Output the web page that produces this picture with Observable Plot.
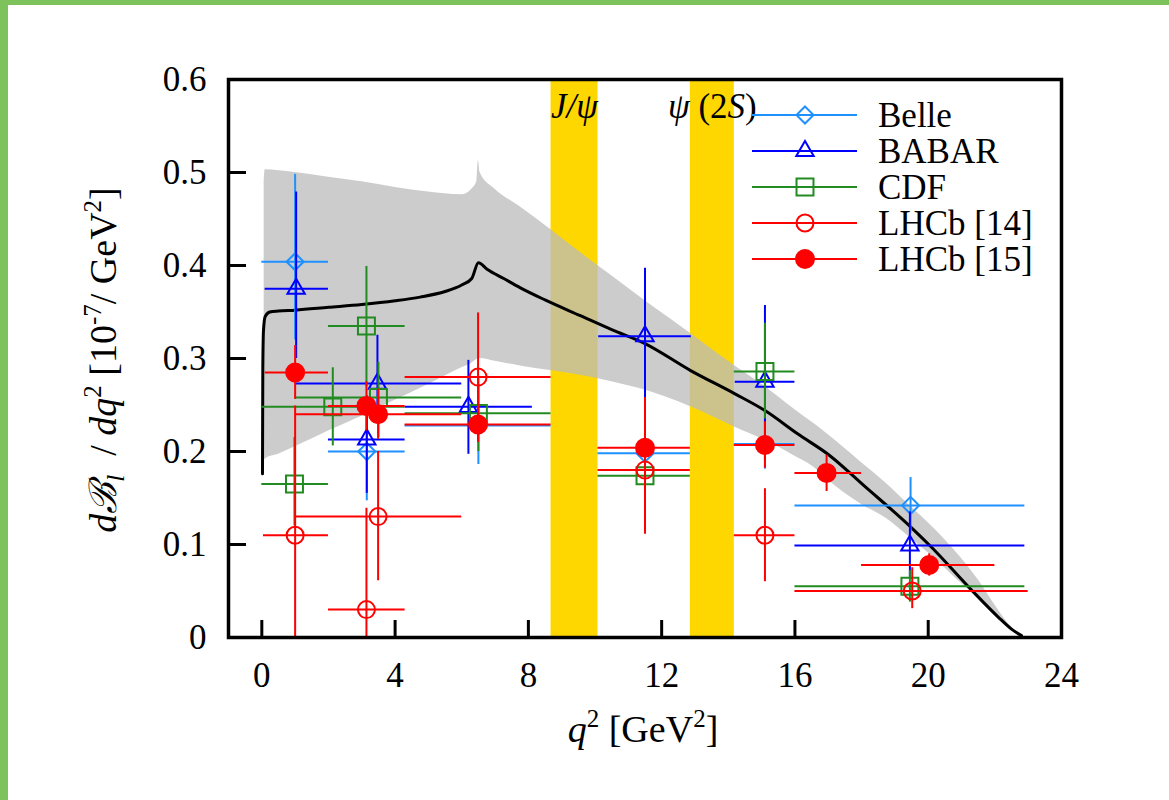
<!DOCTYPE html>
<html><head><meta charset="utf-8">
<script src="https://cdn.jsdelivr.net/npm/d3@7"></script>
<script src="https://cdn.jsdelivr.net/npm/@observablehq/plot@0.6"></script>
<style>
html,body{margin:0;padding:0;background:#fff;}
#wrap{position:relative;width:1169px;height:800px;overflow:hidden;background:#fff;}
#bt{position:absolute;left:0;top:0;width:1169px;height:5px;background:#7dc25a;}
#bl{position:absolute;left:0;top:0;width:8px;height:800px;background:#7dc25a;}
#chart{position:absolute;left:0;top:0;}
#chart svg text, #chart svg tspan{font-family:"Liberation Serif","Times New Roman",serif !important;}
</style></head><body><div id="wrap"><div id="chart"></div><div id="bt"></div><div id="bl"></div></div>
<script>
// ---------- data ----------
const xTicks = [0, 4, 8, 12, 16, 20, 24];
const yTicks = [0, 0.1, 0.2, 0.3, 0.4, 0.5, 0.6];

const resLabels = ["J/ψ", "ψ (2S)"];
const resLo = [8.68, 12.86];
const resHi = [10.09, 14.18];

// theory curve
const curveQ2 = [0.02, 0.03, 0.05, 0.1, 0.24, 0.5, 1, 2, 3, 4, 4.75, 5.5, 6, 6.3, 6.5, 6.76, 7.26, 7.76, 8.5, 9.56, 10.5, 11.5, 12.87, 14.2, 15.1, 16.08, 17.03, 18.08, 19.47, 20.1, 21.3, 22.1, 22.5, 22.8];
const curveVal = [0.176, 0.29, 0.33, 0.345, 0.35, 0.351, 0.352, 0.355, 0.358, 0.362, 0.366, 0.372, 0.379, 0.386, 0.403, 0.396, 0.386, 0.376, 0.363, 0.346, 0.331, 0.316, 0.287, 0.262, 0.244, 0.219, 0.196, 0.163, 0.119, 0.097, 0.051, 0.022, 0.009, 0.002];

// theory uncertainty band
const bandQ2 = [0.07, 0.1, 0.5, 1, 2, 3, 4, 5, 6, 6.3, 6.45, 6.5, 6.55, 7, 7.76, 8.66, 9.56, 10.5, 11.5, 12.87, 14.2, 15.1, 16, 16.57, 17, 18, 18.7, 19.5, 20.1, 21, 21.5, 22, 22.4, 22.8];
const bandLo = [0.19, 0.192, 0.197, 0.205, 0.222, 0.238, 0.255, 0.272, 0.29, 0.295, 0.299, 0.30, 0.30, 0.297, 0.292, 0.287, 0.282, 0.275, 0.266, 0.248, 0.226, 0.212, 0.195, 0.183, 0.169, 0.143, 0.129, 0.106, 0.088, 0.058, 0.042, 0.025, 0.012, 0.0];
const bandHi = [0.49, 0.503, 0.502, 0.5, 0.495, 0.49, 0.484, 0.479, 0.476, 0.482, 0.49, 0.513, 0.5, 0.482, 0.463, 0.439, 0.414, 0.389, 0.362, 0.327, 0.292, 0.27, 0.245, 0.23, 0.218, 0.188, 0.167, 0.14, 0.12, 0.085, 0.062, 0.035, 0.015, 0.0];

// Belle
const belleBins = [[0, 2], [2, 4.3], [4.3, 8.68], [10.09, 12.86], [14.18, 16], [16, 22.9]];
const belleX = [1.0, 3.15, 6.5, 11.5, 15.1, 19.47];
const belleVal = [0.404, 0.200, 0.228, 0.198, 0.208, 0.142];
const belleLow = [0.32, 0.147, 0.186, 0.15, 0.181, 0.112];
const belleHigh = [0.498, 0.25, 0.27, 0.245, 0.235, 0.172];

// BABAR
const babarBins = [[0.1, 2], [2, 4.3], [1, 6], [4.3, 8.12], [10.11, 12.89], [14.21, 16], [16, 22.9]];
const babarX = [1.03, 3.15, 3.47, 6.2, 11.5, 15.1, 19.45];
const babarVal = [0.375, 0.213, 0.273, 0.248, 0.324, 0.275, 0.099];
const babarLow = [0.30, 0.155, 0.23, 0.197, 0.255, 0.19, 0.065];
const babarHigh = [0.479, 0.26, 0.325, 0.298, 0.397, 0.357, 0.135];

// CDF
const cdfBins = [[0, 2], [2, 4.3], [0, 4.3], [1, 6], [4.3, 8.68], [10.09, 12.86], [14.18, 16], [16, 22.9]];
const cdfX = [0.98, 3.14, 2.13, 3.5, 6.5, 11.5, 15.1, 19.45];
const cdfVal = [0.165, 0.335, 0.248, 0.258, 0.241, 0.174, 0.286, 0.055];
const cdfLow = [0.12, 0.27, 0.206, 0.215, 0.20, 0.135, 0.235, 0.038];
const cdfHigh = [0.215, 0.399, 0.29, 0.296, 0.28, 0.215, 0.338, 0.072];

// LHCb [14]
const lhcb14Bins = [[0.05, 2], [2, 4.3], [1, 6], [4.3, 8.68], [10.09, 12.86], [14.18, 16], [16, 23]];
const lhcb14X = [1.0, 3.14, 3.49, 6.49, 11.5, 15.1, 19.52];
const lhcb14Val = [0.110, 0.030, 0.130, 0.280, 0.180, 0.110, 0.050];
const lhcb14Low = [-0.03, -0.08, 0.061, 0.21, 0.111, 0.060, 0.031];
const lhcb14High = [0.249, 0.139, 0.2, 0.349, 0.258, 0.16, 0.075];

// LHCb [15]
const lhcb15Bins = [[0.1, 2], [2, 4.3], [1, 6], [4.3, 8.68], [10.09, 12.86], [14.18, 16], [16, 18], [18, 22]];
const lhcb15X = [1.0, 3.14, 3.49, 6.49, 11.5, 15.1, 16.95, 20.03];
const lhcb15Val = [0.285, 0.249, 0.240, 0.229, 0.204, 0.207, 0.177, 0.078];
const lhcb15Low = [0.256, 0.222, 0.213, 0.21, 0.18, 0.182, 0.157, 0.066];
const lhcb15High = [0.314, 0.275, 0.267, 0.25, 0.23, 0.232, 0.196, 0.09];

// ---------- build ----------
const FONT = "Liberation Serif, Times New Roman, serif";
function rows(bins, xs, vals, lows, highs) {
  return xs.map((x, i) => ({x, x1: bins[i][0], x2: bins[i][1], y: vals[i], y1: lows[i], y2: highs[i]}));
}
const series = [
  {name: "Belle", color: "#1e90ff", symbol: "diamond2", r: 7.7, filled: false, data: rows(belleBins, belleX, belleVal, belleLow, belleHigh)},
  {name: "BABAR", color: "#0000ff", symbol: "triangle2", r: 8.3, filled: false, data: rows(babarBins, babarX, babarVal, babarLow, babarHigh)},
  {name: "CDF", color: "#228b22", symbol: "square2", r: 10.8, filled: false, data: rows(cdfBins, cdfX, cdfVal, cdfLow, cdfHigh)},
  {name: "LHCb [14]", color: "#ff0000", symbol: "circle", r: 8.5, filled: false, data: rows(lhcb14Bins, lhcb14X, lhcb14Val, lhcb14Low, lhcb14High)},
  {name: "LHCb [15]", color: "#ff0000", symbol: "circle", r: 9, filled: true, data: rows(lhcb15Bins, lhcb15X, lhcb15Val, lhcb15Low, lhcb15High)}
];
const resonances = resLabels.map((t, i) => ({label: t, lo: resLo[i], hi: resHi[i]}));
const curve = curveQ2.map((q, i) => ({q, v: curveVal[i]}));
const band = bandQ2.map((q, i) => ({q, lo: bandLo[i], hi: bandHi[i]}));

const dataMarks = series.flatMap(s => [
  Plot.ruleY(s.data, {x1: "x1", x2: "x2", y: "y", stroke: s.color, strokeWidth: 2}),
  Plot.ruleX(s.data, {x: "x", y1: "y1", y2: "y2", stroke: s.color, strokeWidth: 2, clip: true}),
  Plot.dot(s.data, {x: "x", y: "y", symbol: s.symbol, r: s.r, stroke: s.color, strokeWidth: 2, fill: s.filled ? s.color : "none"})
]);

const plot = Plot.plot({
  width: 1169, height: 800,
  marginLeft: 228, marginRight: 108, marginTop: 79, marginBottom: 163,
  style: {fontFamily: FONT, background: "transparent", overflow: "visible"},
  x: {domain: [-1, 24], ticks: xTicks},
  y: {domain: [0, 0.6], ticks: yTicks},
  marks: [
    Plot.rect(resonances, {x1: "lo", x2: "hi", fill: "#ffd700"}),
    Plot.areaY(band, {x: "q", y1: "lo", y2: "hi", fill: "#bbbbbb", fillOpacity: 0.75, curve: "monotone-x"}),
    Plot.line(curve, {x: "q", y: "v", stroke: "black", strokeWidth: 3, curve: "monotone-x"}),
    Plot.text(resonances, {x: d => (d.lo + d.hi) / 2, text: "label", frameAnchor: "top", dy: 38, lineAnchor: "bottom", fontSize: 35, fill: "black"}),
    ...dataMarks,
    Plot.frame({stroke: "black", strokeWidth: 3.5}),
    Plot.axisX({ticks: xTicks, tickSize: -17, tickPadding: 42, strokeWidth: 3, fontSize: 35, label: null, tickFormat: d => String(d)}),
    Plot.axisY({ticks: yTicks, tickSize: -18, tickPadding: 40, strokeWidth: 3, fontSize: 35, label: null, tickFormat: d => d === 0 ? "0" : d.toFixed(1)})
  ]
});
document.getElementById("chart").appendChild(plot);

// ---------- mixed italic styling for resonance labels ----------
const svg = d3.select(plot);
const italicChars = new Set(["J", "ψ", "S", "/"]);
svg.selectAll("text").each(function() {
  const t = this.textContent;
  if (!resLabels.includes(t)) return;
  const el = d3.select(this);
  el.text(null);
  for (const ch of t) {
    el.append("tspan").attr("font-style", italicChars.has(ch) ? "italic" : "normal").text(ch);
  }
});

// ---------- legend & axis titles ----------
const leg = svg.append("g").attr("font-size", 35).attr("text-anchor", "start");
const symMap = {diamond2: d3.symbolDiamond2, triangle2: d3.symbolTriangle2, square2: d3.symbolSquare2, circle: d3.symbolCircle};
series.forEach((s, i) => {
  const cy = 115 + i * 36;
  const g = leg.append("g").attr("transform", `translate(0,${cy})`);
  g.append("line").attr("x1", 752).attr("x2", 857).attr("y1", 0).attr("y2", 0).attr("stroke", s.color).attr("stroke-width", 2);
  g.append("path").attr("transform", "translate(805,0)")
    .attr("d", d3.symbol(symMap[s.symbol], s.r * s.r * Math.PI)())
    .attr("fill", s.filled ? s.color : "none").attr("stroke", s.color).attr("stroke-width", 2);
  g.append("text").attr("x", 878).attr("y", 12).attr("text-anchor", "start").text(s.name);
});

const xl = svg.append("text").attr("x", 643).attr("y", 742).attr("text-anchor", "middle")
  .attr("font-size", 38).style("white-space", "pre");
xl.append("tspan").attr("font-style", "italic").text("q");
xl.append("tspan").attr("font-size", 25).attr("dy", -15).text("2");
xl.append("tspan").attr("dy", 15).text(" [GeV");
xl.append("tspan").attr("font-size", 25).attr("dy", -15).text("2");
xl.append("tspan").attr("dy", 15).text("]");

const yl = svg.append("text").attr("transform", "translate(116,360) rotate(-90)").attr("text-anchor", "middle")
  .attr("font-size", 38).style("white-space", "pre");
yl.append("tspan").attr("font-style", "italic").text("dℬ");
yl.append("tspan").attr("font-style", "italic").attr("font-size", 25).attr("dy", 8).text("l");
yl.append("tspan").attr("dy", -8).text("  / ");
yl.append("tspan").attr("font-style", "italic").text("dq");
yl.append("tspan").attr("font-size", 25).attr("dy", -15).text("2");
yl.append("tspan").attr("dy", 15).text(" [10");
yl.append("tspan").attr("font-size", 25).attr("dy", -15).text("-7");
yl.append("tspan").attr("dy", 15).text("/ GeV");
yl.append("tspan").attr("font-size", 25).attr("dy", -15).text("2");
yl.append("tspan").attr("dy", 15).text("]");
</script>
</body></html>
